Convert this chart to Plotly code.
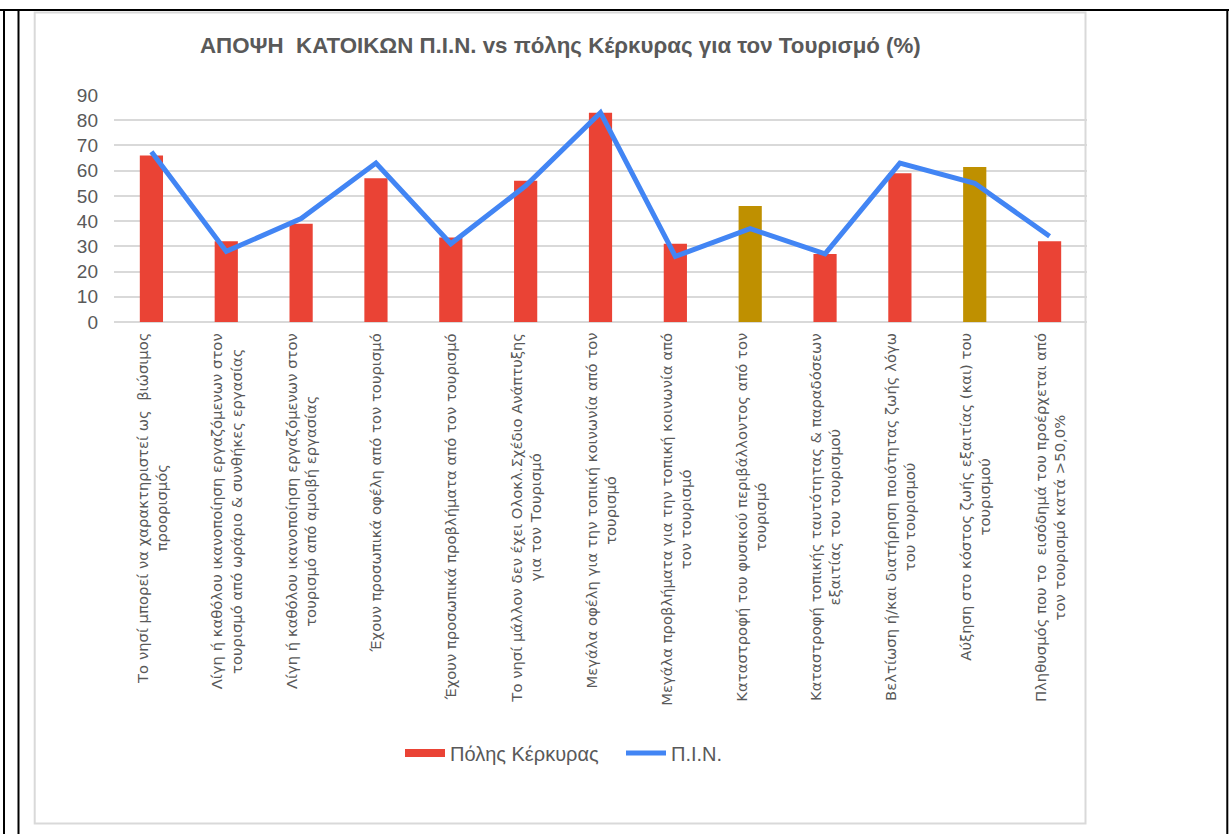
import plotly.graph_objects as go

# Survey categories (statements about tourism)
categories = [
    "Το νησί μπορεί να χαρακτηριστεί ως  βιώσιμος<br>προορισμός",
    "Λίγη ή καθόλου ικανοποίηση εργαζόμενων στον<br>τουρισμό από ωράριο & συνθήκες εργασίας",
    "Λίγη ή καθόλου ικανοποίηση εργαζόμενων στον<br>τουρισμό από αμοιβή εργασίας",
    "Έχουν προσωπικά οφέλη από τον τουρισμό",
    "Έχουν προσωπικά προβλήματα από τον τουρισμό",
    "Το νησί μάλλον δεν έχει Ολοκλ.Σχέδιο Ανάπτυξης<br>για τον Τουρισμό",
    "Μεγάλα οφέλη για την τοπική κοινωνία από τον<br>τουρισμό",
    "Μεγάλα προβλήματα για την τοπική κοινωνία από<br>τον τουρισμό",
    "Καταστροφή του φυσικού περιβάλλοντος από τον<br>τουρισμό",
    "Καταστροφή τοπικής ταυτότητας & παραδόσεων<br>εξαιτίας του τουρισμού",
    "Βελτίωση ή/και διατήρηση ποιότητας ζωής λόγω<br>του τουρισμού",
    "Αύξηση στο κόστος ζωής εξαιτίας (και) του<br>τουρισμού",
    "Πληθυσμός που το  εισόδημά του προέρχεται από<br>τον τουρισμό κατά >50,0%",
]

# Corfu town residents (bars), %
kerkyra = [66, 32, 39, 57, 33.5, 56, 83, 31, 46, 27, 59, 61.5, 32]
# Ionian islands residents (line), %
pin = [67.5, 28, 41, 63, 31, 54, 83, 26, 37, 27, 63, 55, 34]

y_ticks = [0, 10, 20, 30, 40, 50, 60, 70, 80, 90]

RED = "#EA4335"
GOLD = "#BF9000"
BLUE = "#4285F4"
GREY_TXT = "#595959"
GRID = "#D9D9D9"

bar_colors = [RED] * len(categories)
bar_colors[8] = GOLD
bar_colors[11] = GOLD

W, H = 1229, 834
ML, MR, MT, MB = 114, 142, 95, 512
PW = W - ML - MR
PH = H - MT - MB


def px_x(px):
    return (px - ML) / PW


def px_y(py):
    return (H - MB - py) / PH


fig = go.Figure()

fig.add_trace(go.Bar(
    x=list(range(len(categories))),
    y=kerkyra,
    marker=dict(color=bar_colors, line=dict(width=0)),
    width=0.31,
    name="Πόλης Κέρκυρας",
    showlegend=False,
))

# legend entry for the bar series (wide flat swatch)
fig.add_trace(go.Scatter(
    x=[None], y=[None], mode="lines",
    line=dict(color=RED, width=8),
    name="Πόλης Κέρκυρας",
))

fig.add_trace(go.Scatter(
    x=list(range(len(categories))),
    y=pin,
    mode="lines",
    line=dict(color=BLUE, width=5),
    name="Π.Ι.Ν.",
))

annotations = []
for i, lab in enumerate(categories):
    annotations.append(dict(
        x=i, y=0, xref="x", yref="paper",
        text=lab, textangle=-90,
        showarrow=False, xanchor="center", yanchor="top",
        yshift=-9, align="center",
        font=dict(family="DejaVu Sans, sans-serif", size=14.8, color=GREY_TXT),
    ))

annotations.append(dict(
    x=px_x(560), y=px_y(45), xref="paper", yref="paper",
    text="<b>ΑΠΟΨΗ\u00a0\u00a0ΚΑΤΟΙΚΩΝ Π.Ι.Ν. vs πόλης Κέρκυρας για τον Τουρισμό (%)</b>",
    showarrow=False, xanchor="center", yanchor="middle",
    font=dict(family="Liberation Sans, Arial, sans-serif", size=22.3, color=GREY_TXT),
))

shapes = [
    # chart frame
    dict(type="rect", xref="paper", yref="paper",
         x0=px_x(34.7), x1=px_x(1085.5), y0=px_y(823.5), y1=px_y(12.5),
         line=dict(color=GRID, width=2), layer="below"),
    # table borders
    dict(type="line", xref="paper", yref="paper",
         x0=px_x(0), x1=px_x(1229), y0=px_y(10), y1=px_y(10),
         line=dict(color="black", width=2)),
    dict(type="line", xref="paper", yref="paper",
         x0=px_x(4), x1=px_x(4), y0=px_y(10), y1=px_y(834),
         line=dict(color="black", width=2)),
    dict(type="line", xref="paper", yref="paper",
         x0=px_x(18.5), x1=px_x(18.5), y0=px_y(10), y1=px_y(834),
         line=dict(color="black", width=2)),
    dict(type="line", xref="paper", yref="paper",
         x0=px_x(1227.3), x1=px_x(1227.3), y0=px_y(10), y1=px_y(834),
         line=dict(color="black", width=2)),
]

fig.update_layout(
    width=W, height=H,
    margin=dict(l=ML, r=MR, t=MT, b=MB, autoexpand=False),
    paper_bgcolor="white", plot_bgcolor="white",
    showlegend=True,
    legend=dict(
        orientation="h", x=px_x(400), y=px_y(753), xanchor="left", yanchor="middle",
        font=dict(family="Liberation Sans, Arial, sans-serif", size=20, color=GREY_TXT),
        itemwidth=40, entrywidth=166, bgcolor="rgba(0,0,0,0)",
    ),
    xaxis=dict(
        range=[-0.5, len(categories) - 0.5],
        showticklabels=False, showgrid=False, zeroline=False,
        showline=False, ticks="",
    ),
    yaxis=dict(
        range=[0, 90], tickvals=y_ticks,
        showgrid=True, gridcolor=GRID, gridwidth=1.5,
        zeroline=True, zerolinecolor=GRID, zerolinewidth=2,
        showline=False, ticks="",
        tickfont=dict(family="Liberation Sans, Arial, sans-serif", size=19, color=GREY_TXT),
        ticklabelstandoff=15,
    ),
    annotations=annotations,
    shapes=shapes,
    bargap=0.69,
)

fig.write_html("out.html")
